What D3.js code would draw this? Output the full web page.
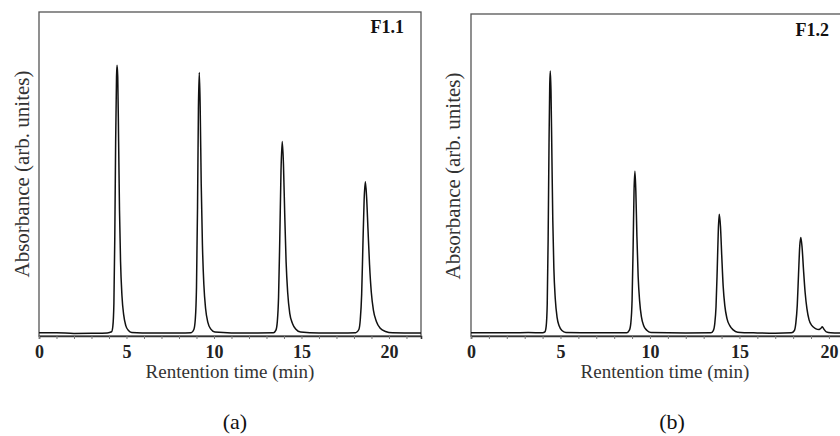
<!DOCTYPE html>
<html><head><meta charset="utf-8">
<script src="https://cdn.jsdelivr.net/npm/d3@7"></script>
<style>body{margin:0;background:#fff}svg{display:block}</style>
</head><body>
<svg id="c" width="840" height="436"></svg>
<script>
// Data: [retention time (min), absorbance (arb.)]
const seriesF11 = [
 [0,1.0],[1,1.0],[2,0.8],[3,0.85],[3.9,0.95],[4.15,1.3],[4.22,3],[4.28,10],[4.33,30],[4.38,60],[4.43,80],[4.46,83.6],
 [4.50,80],[4.55,60],[4.60,39],[4.66,23],[4.74,12.5],[4.84,6.5],[4.96,3.2],[5.10,1.8],[5.30,1.1],[6.5,0.9],[8.0,0.9],
 [8.70,1.0],[8.85,2],[8.93,5],[9.00,15],[9.06,40],[9.11,70],[9.16,81.3],[9.21,71],[9.27,47],[9.34,28],[9.42,16],
 [9.52,8.5],[9.65,4.2],[9.82,2.1],[10.05,1.2],[11,0.95],[12.5,0.95],
 [13.40,1.0],[13.54,1.8],[13.62,4.5],[13.69,12],[13.76,30],[13.83,51],[13.90,60],[13.97,53],[14.04,38],[14.12,23],
 [14.21,13.5],[14.33,7],[14.49,3.8],[14.68,2.1],[14.95,1.2],[16,0.9],[17.5,0.95],
 [18.10,1.0],[18.28,2],[18.36,5],[18.44,13],[18.51,28],[18.58,42],[18.65,47.6],[18.72,43],[18.80,33],[18.89,22],
 [18.99,13.5],[19.11,8],[19.28,4.5],[19.50,2.4],[19.80,1.4],[20.20,1.0],[21.83,0.9]
];
const seriesF12 = [
 [0,1.0],[2,1.0],[3.2,1.05],[4.00,1.0],[4.13,1.3],[4.20,3],[4.26,10],[4.31,30],[4.36,60],[4.40,78],[4.43,82.3],
 [4.47,76],[4.52,56],[4.57,36],[4.63,21],[4.71,11.5],[4.81,5.8],[4.93,3.1],[5.08,1.7],[5.30,1.1],[7,1.0],
 [8.70,1.0],[8.85,1.8],[8.93,4],[9.00,11],[9.06,28],[9.11,45],[9.16,51.2],[9.21,45],[9.27,31],[9.34,18.5],[9.42,11],
 [9.52,6],[9.65,3.2],[9.82,1.8],[10.05,1.1],[12,0.95],
 [13.40,1.0],[13.54,1.7],[13.62,3.8],[13.69,9],[13.76,21],[13.82,33],[13.87,37.8],[13.94,34],[14.01,25],[14.09,15.5],
 [14.18,9.5],[14.30,5.5],[14.46,3.2],[14.65,1.9],[14.90,1.2],[16,0.95],[17,0.85],
 [17.90,1.0],[18.07,1.7],[18.15,4],[18.23,9.5],[18.30,19],[18.37,28],[18.43,30.6],[18.50,27.5],[18.58,20.5],[18.67,13.5],
 [18.77,8.5],[18.89,5],[19.05,3.2],[19.25,2.3],[19.45,2],[19.55,2.4],[19.63,2.9],[19.70,2.3],[19.85,1.3],[20.10,1.0],[20.73,0.9]
];
const xTicks = d3.range(0, 22, 1);
const xTickLabels = [0, 5, 10, 15, 20];
const panelLabels = ["F1.1", "F1.2"];
const subLabels = ["(a)", "(b)"];
const xTitle = "Rentention time (min)";
const yTitle = "Absorbance (arb. unites)";

const svg = d3.select("#c");
const serif = "'Liberation Serif','Times New Roman',serif";

const panels = [
  {data: seriesF11, xd: [0, 21.83], xr: [39, 421], yr: [336, 12], label: panelLabels[0], lx: 404, ly: 33, sub: subLabels[0], sx: 235, ytx: 29, ytc: 174, xtc: 230},
  {data: seriesF12, xd: [0, 20.73], xr: [471, 842], yr: [336, 14], label: panelLabels[1], lx: 829, ly: 36, sub: subLabels[1], sx: 672, ytx: 460, ytc: 176, xtc: 665}
];

panels.forEach(p => {
  const x = d3.scaleLinear().domain(p.xd).range(p.xr);
  const y = d3.scaleLinear().domain([0, 100]).range(p.yr);
  const g = svg.append("g");
  g.append("rect").attr("x", p.xr[0]).attr("y", p.yr[1])
    .attr("width", p.xr[1] - p.xr[0]).attr("height", p.yr[0] - p.yr[1])
    .attr("fill", "none").attr("stroke", "#555").attr("stroke-width", 1.3);
  const line = d3.line().x(d => x(d[0])).y(d => y(d[1])).curve(d3.curveMonotoneX);
  g.append("path").datum(p.data).attr("d", line)
    .attr("fill", "none").attr("stroke", "#111").attr("stroke-width", 1.5).attr("stroke-linejoin", "round");
  const ax = g.append("g").attr("transform", `translate(0,${p.yr[0]})`)
    .call(d3.axisBottom(x).tickValues(xTicks.filter(t => t <= p.xd[1]))
      .tickFormat(d => xTickLabels.includes(d) ? d : "").tickSize(3).tickPadding(6));
  ax.select(".domain").attr("stroke", "#333").attr("stroke-width", 1.6);
  ax.selectAll(".tick line").attr("stroke", "#777");
  ax.selectAll(".tick text").attr("font-family", serif).attr("font-weight", "bold")
    .attr("font-size", 18).attr("fill", "#222");
  g.append("text").attr("x", p.xtc).attr("y", 378)
    .attr("text-anchor", "middle").attr("font-family", serif).attr("font-size", 19).attr("fill", "#333").text(xTitle);
  g.append("text").attr("transform", `translate(${p.ytx},${p.ytc}) rotate(-90)`)
    .attr("text-anchor", "middle").attr("font-family", serif).attr("font-size", 21).attr("fill", "#333").text(yTitle);
  g.append("text").attr("x", p.lx).attr("y", p.ly).attr("text-anchor", "end")
    .attr("font-family", serif).attr("font-weight", "bold").attr("font-size", 18).attr("fill", "#111").text(p.label);
  g.append("text").attr("x", p.sx).attr("y", 429).attr("text-anchor", "middle")
    .attr("font-family", serif).attr("font-size", 22).attr("fill", "#111").text(p.sub);
});
</script>
</body></html>
